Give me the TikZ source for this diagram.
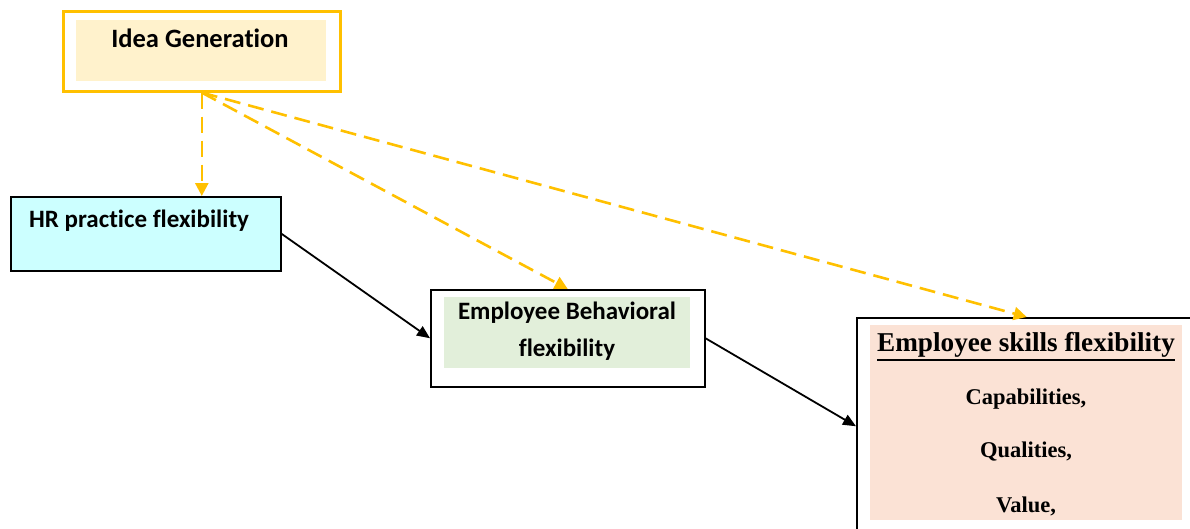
\documentclass[tikz,border=0pt]{standalone}
\usepackage{fontspec}
\setmainfont[Ligatures=NoCommon]{Carlito}
\newfontfamily\timesf{Liberation Serif}
\usetikzlibrary{arrows.meta,positioning,calc}
\definecolor{ideaorange}{HTML}{FFC000}
\definecolor{ideafill}{HTML}{FFF2CC}
\definecolor{hrfill}{HTML}{CCFFFF}
\definecolor{ebfill}{HTML}{E2EFDA}
\definecolor{esfill}{HTML}{FBE2D5}
\newcommand{\thickul}[1]{\setbox0\hbox{#1}\vtop{\copy0\kern2pt\hrule height 2.4pt width \wd0}}
\tikzset{
  outerbox/.style={draw=black, line width=1.5pt, fill=white, minimum width=#1, inner sep=0pt, anchor=north west},
  fillbox/.style={draw=none, inner sep=0pt, anchor=north west},
  labeltext/.style={font=\fontsize{25}{37}\selectfont\bfseries, align=center, inner sep=0pt},
  serift/.style={font=\timesf\fontsize{22.5}{25}\selectfont\bfseries, inner sep=0pt},
  dasharrow/.style={draw=ideaorange, line width=2.6pt, dash pattern=on 16pt off 8pt, -{Triangle[length=13pt,width=13pt]}},
  solidarrow/.style={draw=black, line width=1.8pt, -{Triangle[length=13pt,width=11pt]}}
}
\begin{document}
\begin{tikzpicture}[x=1pt,y=-1pt]
\useasboundingbox (0,0) rectangle (1190,528);
\begin{scope}
\clip (0,0) rectangle (1190,528);
% Idea Generation
\node[outerbox=277pt, draw=ideaorange, line width=2.6pt, minimum height=80pt] (idea) at (62,10) {};
\node[fillbox, fill=ideafill, minimum width=250pt, minimum height=61pt] (ideain) at (76,20) {};
\node[labeltext, font=\fontsize{26.5}{30}\selectfont\bfseries] (ideatext) at (200,38) {Idea Generation};
% HR practice flexibility
\node[outerbox=270pt, fill=hrfill, minimum height=74pt] (hr) at (10,196) {};
\node[labeltext, anchor=west] (hrtext) at (29,221) {HR practice flexibility};
% Employee Behavioral flexibility
\node[outerbox=274pt, minimum height=97pt] (eb) at (430,289) {};
\node[fillbox, fill=ebfill, minimum width=246pt, minimum height=71pt] (ebin) at (444,297) {};
\node[labeltext] (ebtext) at (567,331) {Employee Behavioral\\flexibility};
% Employee skills flexibility
\node[outerbox=340pt, minimum height=217pt] (es) at (856,317) {};
\node[fillbox, fill=esfill, minimum width=312pt, minimum height=195pt] (esin) at (870,325) {};
\node[serift, font=\timesf\fontsize{27.2}{30}\selectfont\bfseries, anchor=base] (estitle) at (1026,351) {\thickul{Employee skills flexibility}};
\node[serift] (es1) at (1026,399) {Capabilities,};
\node[serift] (es2) at (1026,452) {Qualities,};
\node[serift] (es3) at (1026,506) {Value,};
\end{scope}
% connectors
\draw[dasharrow] (idea.south) -- (idea.south |- hr.north);
\draw[dasharrow] (idea.south) -- (eb.north);
\draw[dasharrow] (idea.south) -- (es.north);
\draw[solidarrow] (hr.east) -- (eb.west);
\draw[solidarrow] (eb.east) -- (es.west);
\end{tikzpicture}
\end{document}
